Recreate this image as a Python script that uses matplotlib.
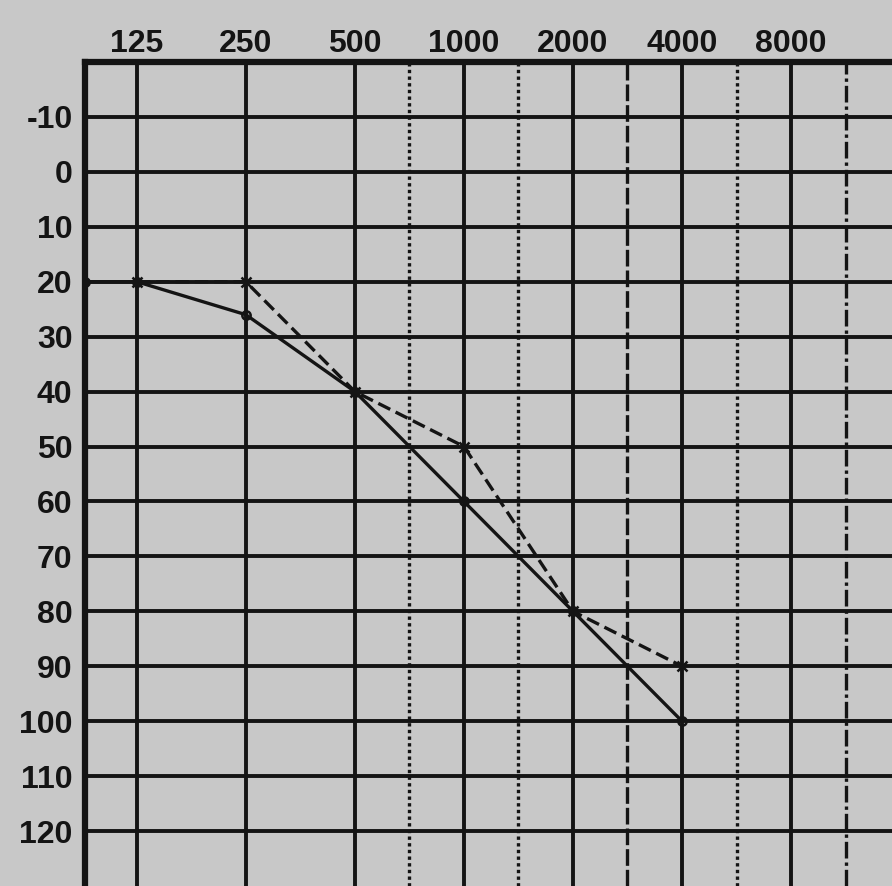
import matplotlib.pyplot as plt
import numpy as np

# audiogram values
freqs = [125, 250, 500, 1000, 2000, 4000, 8000]
freq_labels = ['125', '250', '500', '1000', '2000', '4000', '8000']
db_ticks = list(range(-10, 121, 10))

solid_freqs = [90, 125, 250, 500, 1000, 2000, 4000]
solid_db = [20, 20, 26, 40, 60, 80, 100]

dash_freqs = [125, 250, 500, 1000, 2000, 4000]
dash_db = [20, 20, 40, 50, 80, 90]

bg = '#c8c8c8'
ink = '#141414'
fig = plt.figure(figsize=(8.92, 8.86), dpi=100, facecolor=bg)
ax = fig.add_axes([85/892, 0, 1 - 85/892, (886-62)/886], facecolor=bg)

ax.set_xscale('log', base=2)
ax.set_xlim(89.9, 15200)
ax.set_ylim(130, -20)

# grid: solid octave lines, broken half-octave lines
for f in freqs:
    ax.axvline(f, color=ink, lw=2.8, zorder=1)
half = [np.sqrt(freqs[i]*freqs[i+1]) for i in range(len(freqs)-1)] + [8000*np.sqrt(2)]
half_styles = {2: (0, (1, 1.0)), 3: (0, (1, 1.0)), 4: (0, (5, 1.2)), 5: (0, (1, 1.0)), 6: (0, (5, 1.2, 1, 1.2))}
for i, f in enumerate(half):
    if i in half_styles:
        ax.axvline(f, color=ink, lw=2.4, ls=half_styles[i], zorder=1)
for d in db_ticks:
    ax.axhline(d, color=ink, lw=2.8, zorder=1)

ax.plot(solid_freqs, solid_db, color=ink, lw=2.4, marker='o', ms=6,
        markerfacecolor='none', mew=1.8, zorder=3)
ax.plot(dash_freqs, dash_db, color=ink, lw=2.4, ls=(0, (4, 1.8)), marker='x',
        ms=7, mew=1.8, zorder=3)

ax.xaxis.tick_top()
ax.set_xticks(freqs)
ax.set_xticklabels(freq_labels)
ax.xaxis.set_minor_locator(plt.NullLocator())
ax.set_yticks(db_ticks)
ax.set_yticklabels([str(d) for d in db_ticks])
ax.tick_params(length=0, labelsize=23, labelcolor=ink)
ax.tick_params(axis='x', pad=2)
ax.tick_params(axis='y', pad=9)
for lab in ax.get_xticklabels() + ax.get_yticklabels():
    lab.set_fontfamily('Liberation Sans')
    lab.set_fontweight('bold')

for side in ['top', 'left']:
    ax.spines[side].set_linewidth(4.5)
    ax.spines[side].set_color(ink)
for side in ['right', 'bottom']:
    ax.spines[side].set_visible(False)

fig.savefig('out.png', dpi=100, facecolor=bg)
